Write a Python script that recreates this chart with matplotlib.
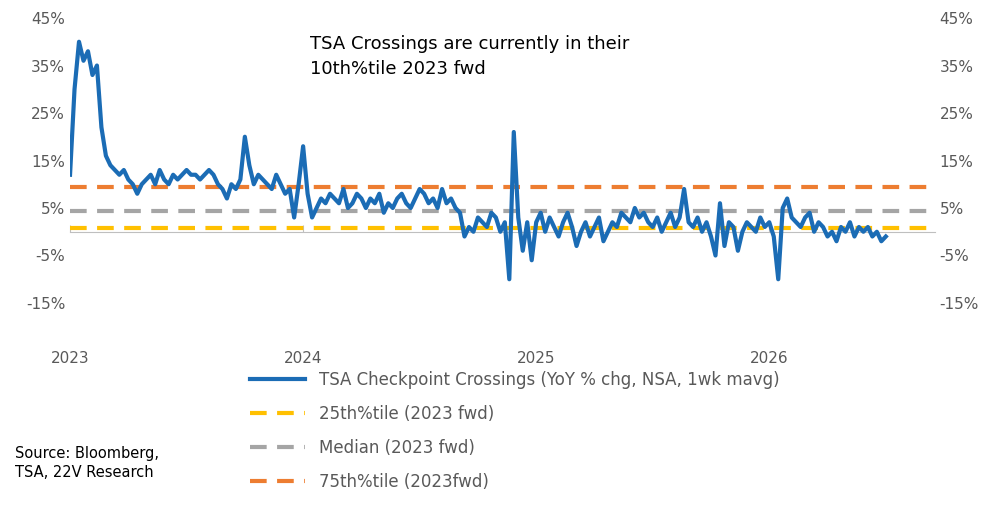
import matplotlib
matplotlib.use("Agg")
import matplotlib.pyplot as plt
import numpy as np

tsa = [12, 30, 40, 36, 38, 33, 35, 22, 16, 14, 13, 12, 13,
       11, 10, 8, 10, 11, 12, 10, 13, 11, 10, 12, 11, 12,
       13, 12, 12, 11, 12, 13, 12, 10, 9, 7, 10, 9, 11,
       20, 14, 10, 12, 11, 10, 9, 12, 10, 8, 9, 3, 10,
       18, 8, 3, 5, 7, 6, 8, 7, 6, 9,
       5, 6, 8, 7, 5, 7, 6, 8, 4, 6,
       5, 7, 8, 6, 5, 7, 9, 8, 6, 7,
       5, 9, 6, 7, 5, 4,
       -1, 1, 0, 3, 2, 1, 4, 3, 0, 2,
       -10, 21, 3, -4, 2, -6,
       2, 4, 0, 3, 1, -1, 2, 4, 1, -3, 0, 2, -1, 1, 3, -2, 0, 2, 1, 4, 3, 2, 5, 3, 4, 2,
       1, 3, 0, 2, 4, 1, 3, 9, 2, 1,
       3, 0, 2, -1, -5, 6, -3, 2, 1, -4, 0, 2, 1, 0, 3, 1,
       2, -1, -10, 5, 7, 3, 2, 1, 3, 4, 0, 2, 1, -1, 0, -2, 1, 0, 2, -1, 1, 0, 1, -1, 0, -2, -1]
p25, p50, p75 = 0.7, 4.3, 9.5
year_ticks = [2023, 2024, 2025, 2026]
y_ticks = [-15, -5, 5, 15, 25, 35, 45]

x = 2023 + np.arange(len(tsa)) / 52.0

fig = plt.figure(figsize=(10.02, 5.16), dpi=100)
ax = fig.add_axes([0.0699, 0.4128, 0.863, 0.5523])
xmin, xmax = 2023, 2026.71
l1, = ax.plot(x, tsa, color="#1B6CB5", lw=3, zorder=5,
              label="TSA Checkpoint Crossings (YoY % chg, NSA, 1wk mavg)")
l2, = ax.plot([xmin, xmax], [p25]*2, color="#FFC000", lw=3, ls=(0, (4, 2.5)), label="25th%tile (2023 fwd)")
l3, = ax.plot([xmin, xmax], [p50]*2, color="#A5A5A5", lw=3, ls=(0, (4, 2.5)), label="Median (2023 fwd)")
l4, = ax.plot([xmin, xmax], [p75]*2, color="#ED7D31", lw=3, ls=(0, (4, 2.5)), label="75th%tile (2023fwd)")
ax.set_xlim(xmin, xmax)
ax.set_ylim(-15, 45)
ax.set_yticks(y_ticks)
ax.set_yticklabels([f"{v}%" for v in y_ticks])
ax.set_xticks(year_ticks)
ax.set_xticklabels([str(v) for v in year_ticks])
for s in ["left", "right", "top"]:
    ax.spines[s].set_visible(False)
ax.spines["bottom"].set_position(("data", 0))
ax.spines["bottom"].set_color("#BFBFBF")
ax.tick_params(axis="x", length=5, color="#BFBFBF", labelsize=11, labelcolor="#595959", pad=86, direction="in")
ax.tick_params(axis="y", length=0, labelsize=11, labelcolor="#595959")
ax2 = ax.twinx()
ax2.set_ylim(-15, 45)
ax2.set_yticks(y_ticks)
ax2.set_yticklabels([f"{v}%" for v in y_ticks])
ax2.tick_params(axis="y", length=0, labelsize=11, labelcolor="#595959")
for s in ax2.spines.values():
    s.set_visible(False)
ax.text(0.278, 0.94, "TSA Crossings are currently in their\n10th%tile 2023 fwd", transform=ax.transAxes,
        fontsize=13, va="top", ha="left", linespacing=1.5)
fig.legend(handles=[l1, l2, l3, l4], loc="upper left", bbox_to_anchor=(0.235, 0.31),
           frameon=False, fontsize=12, labelcolor="#595959", handlelength=3.3, labelspacing=0.95)
fig.text(0.015, 0.07, "Source: Bloomberg,\nTSA, 22V Research", fontsize=10.5, va="bottom", linespacing=1.3)
fig.savefig("out.png", dpi=100)
